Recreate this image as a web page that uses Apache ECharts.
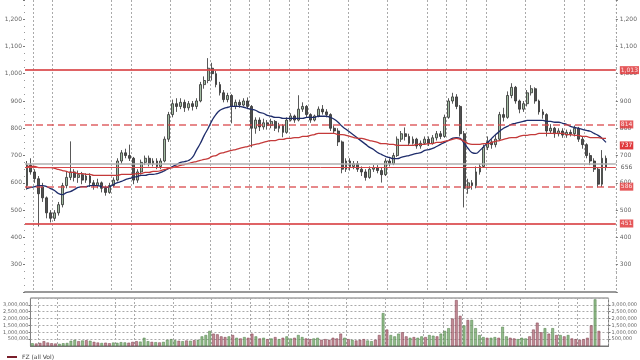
<!DOCTYPE html>
<html>
<head>
<meta charset="utf-8">
<script src="https://cdn.jsdelivr.net/npm/echarts@6/dist/echarts.min.js"></script>
<style>
  html, body { margin: 0; padding: 0; background: #fff; }
  #chart { width: 640px; height: 360px; }
</style>
</head>
<body>
<div id="chart"></div>
<script>
// daily bars: [open, close, low, high]
const ohlc = [
  [590,665,575,680],[665,640,630,690],[640,615,600,650],[615,560,440,625],[585,545,530,600],
  [545,490,470,550],[490,470,455,500],[470,490,460,500],[490,520,480,530],[520,590,510,600],
  [590,620,580,640],[620,640,610,752],[640,620,605,650],[620,630,600,645],[630,610,595,640],
  [610,625,600,635],[625,600,585,635],[600,590,575,610],[590,600,580,615],[600,580,565,605],
  [580,565,553,590],[565,590,560,600],[590,610,585,620],[610,680,605,690],[680,710,670,720],
  [710,700,690,725],[700,690,680,740],[690,610,595,695],[610,640,600,650],[640,675,630,685],
  [675,690,665,700],[690,670,660,700],[670,680,660,690],[680,660,650,690],[660,680,650,690],
  [680,760,675,770],[760,850,750,860],[850,890,840,905],[890,880,860,910],[880,895,870,910],
  [895,875,860,905],[875,890,865,900],[890,880,865,900],[880,900,870,910],[900,960,895,970],
  [960,975,945,990],[975,1020,965,1057],[1020,1000,975,1040],[1000,960,950,1010],[960,930,920,970],
  [930,905,895,940],[905,920,895,930],[920,880,818,925],[880,895,870,905],[895,885,875,905],
  [885,900,880,910],[900,880,870,913],[880,800,730,885],[800,830,780,840],[830,805,790,840],
  [805,820,795,835],[820,810,795,830],[810,825,800,835],[825,800,790,830],[800,810,785,820],
  [810,785,767,815],[785,830,780,840],[830,845,825,855],[845,830,820,850],[830,870,825,921],
  [870,880,860,895],[880,850,840,885],[850,830,820,855],[830,845,825,850],[845,870,840,880],
  [870,860,850,885],[860,850,840,870],[850,800,790,855],[800,790,780,810],[790,750,735,800],
  [750,650,635,755],[650,680,640,690],[680,660,645,690],[660,670,650,680],[670,650,640,680],
  [650,640,625,660],[640,620,608,650],[620,650,615,660],[650,655,640,665],[655,645,635,665],
  [645,630,601,655],[630,680,625,690],[680,670,660,690],[670,700,665,710],[700,760,695,770],
  [760,780,750,790],[780,770,755,803],[770,745,735,780],[745,760,740,770],[760,735,725,765],
  [735,745,725,755],[745,760,740,770],[760,745,735,770],[745,765,740,775],[765,780,755,790],
  [780,770,760,790],[770,840,765,850],[840,900,835,910],[900,915,890,930],[915,880,870,925],
  [880,780,770,885],[780,580,510,790],[580,600,560,615],[600,590,575,610],[590,640,580,660],
  [640,660,630,670],[660,730,655,740],[730,750,720,770],[750,740,725,760],[740,760,730,775],
  [760,850,755,860],[850,840,825,875],[840,920,835,935],[920,950,910,965],[950,900,890,955],
  [900,870,855,905],[870,890,860,900],[890,930,880,940],[930,945,920,958],[945,900,890,950],
  [900,860,850,905],[860,850,835,870],[850,790,770,855],[790,800,780,815],[800,780,765,805],
  [780,790,770,800],[790,775,765,800],[775,785,765,795],[785,780,770,795],[780,800,770,810],
  [800,760,750,805],[760,740,725,770],[740,700,690,745],[700,680,665,710],[680,650,640,690],
  [650,595,583,655],[595,690,585,720],[690,656,645,700]
];

// volume per bar
const volume = [
  200000,180000,220000,350000,250000,200000,180000,160000,200000,220000,
  380000,450000,350000,400000,420000,380000,300000,250000,220000,240000,
  200000,250000,230000,280000,260000,240000,300000,350000,320000,600000,
  350000,300000,280000,260000,300000,450000,500000,420000,380000,350000,
  400000,380000,420000,450000,700000,800000,1100000,900000,850000,700000,
  650000,700000,800000,600000,550000,650000,600000,900000,700000,550000,
  600000,500000,550000,650000,500000,600000,700000,550000,600000,800000,
  650000,550000,500000,550000,600000,450000,500000,450000,600000,550000,
  900000,600000,500000,450000,400000,450000,500000,400000,350000,450000,
  800000,2400000,1200000,800000,700000,900000,1000000,700000,600000,650000,
  600000,700000,650000,800000,750000,700000,900000,1100000,1300000,2000000,
  3350000,2200000,1500000,1900000,1900000,1300000,800000,650000,600000,600000,
  650000,600000,1400000,700000,600000,550000,500000,600000,550000,700000,
  1200000,1700000,1000000,1300000,900000,1300000,800000,800000,700000,800000,
  550000,500000,450000,500000,600000,1500000,3400000,1100000
];

// short moving average (navy)
const maShort = [
  579,583,586,590,590,586,579,572,561,557,564,568,575,583,586,586,590,590,590,586,
  583,586,594,601,605,612,616,620,623,627,627,631,631,634,638,645,653,660,667,675,
  678,682,693,719,744,774,800,829,851,866,873,877,880,880,880,877,873,869,866,858,
  855,847,844,840,840,836,836,836,836,836,836,840,840,840,844,844,844,840,833,822,
  807,796,785,774,763,752,741,730,722,711,704,697,693,689,689,693,697,700,704,708,
  711,719,722,726,733,741,748,755,763,766,763,744,726,711,708,719,733,748,763,777,
  789,800,807,814,818,822,825,829,829,829,829,829,825,825,822,822,818,814,807,803,
  800,796,792,789,781,774,763,748
];

// long moving average (red)
const maLong = [
  660,660,660,656,656,656,656,653,649,645,642,638,638,634,634,631,631,627,627,627,
  627,627,627,627,631,631,631,631,634,634,638,638,642,642,645,649,653,656,660,664,
  667,671,675,678,682,686,689,697,700,708,711,715,719,722,726,730,733,737,741,744,
  748,752,755,755,759,759,763,763,766,766,770,770,774,777,781,781,781,781,781,777,
  777,774,770,766,763,763,759,755,752,748,744,744,741,741,737,737,737,737,737,741,
  741,741,744,744,748,748,752,755,759,763,759,752,744,741,741,741,744,744,748,752,
  755,759,763,766,766,770,774,774,777,777,781,781,781,781,781,781,781,777,777,774,
  774,770,770,766,766,766,763,763
];

// horizontal levels
const solidLevels = [1013, 451];
const dashedLevels = [814, 586];
const maLevel = 737;
const lastPrice = 656;
const refPrice = 670;

const barCount = 150;
const categories = Array.from({ length: barCount }, (_, i) => 'D' + (i + 1));
// bars where a vertical grid line starts
const gridBars = [2, 7, 22, 27, 37, 47, 52, 57, 62, 67, 72, 82, 92, 102, 107, 112, 117, 127, 137, 142];

const upColor = '#a3bea3';
const downColor = '#505050';
const levelRed = '#d9484a';

const fmt = v => Math.round(v).toLocaleString('en-US');

const chart = echarts.init(document.getElementById('chart'));

const levelLabel = {
  show: true,
  position: 'end',
  distance: 4,
  formatter: p => fmt(p.value),
  color: '#fff',
  backgroundColor: '#e0393c',
  fontSize: 6,
  padding: [1, 1],
  fontFamily: 'DejaVu Sans'
};

const markData = []
solidLevels.forEach(v => markData.push({ yAxis: v, lineStyle: { type: 'solid', width: 2, color: levelRed, opacity: 0.85 } }));
dashedLevels.forEach(v => markData.push({ yAxis: v, lineStyle: { type: [7, 4], width: 1.5, color: levelRed, opacity: 0.85 } }));
markData.push({ yAxis: refPrice, lineStyle: { type: 'solid', width: 1.5, color: '#b0b0b0' }, label: { show: false } });
markData.push({ yAxis: lastPrice, lineStyle: { type: 'solid', width: 1, color: levelRed },
  label: { ...levelLabel, color: '#555', backgroundColor: 'transparent', textBorderWidth: 0 } });
markData.push({ yAxis: maLevel, lineStyle: { width: 0, color: 'rgba(0,0,0,0)' } });

const splitX = {
  show: true,
  interval: i => gridBars.includes(i),
  lineStyle: { color: '#aaa', type: [2, 2], width: 1 }
};

const axisLabelStyle = { fontSize: 6, color: '#666', fontFamily: 'DejaVu Sans', formatter: fmt };

chart.setOption({
  animation: false,
  backgroundColor: '#fff',
  legend: {
    left: 2,
    top: 349,
    itemWidth: 10,
    itemHeight: 2,
    itemGap: 4,
    icon: 'rect',
    data: [{ name: 'FZ (all Vol)', itemStyle: { color: '#7a1f2b' } }],
    textStyle: { fontSize: 6, color: '#444', fontFamily: 'DejaVu Sans' }
  },
  grid: [
    { left: 25, right: 18, top: 0, height: 292 },
    { left: 25, right: 18, top: 298, height: 48, show: true, borderColor: '#777', borderWidth: 1 }
  ],
  xAxis: [
    {
      type: 'category', gridIndex: 0, data: categories, boundaryGap: true,
      axisLine: { show: true, lineStyle: { color: '#999', width: 2 } },
      axisTick: { show: false }, axisLabel: { show: false },
      splitLine: splitX
    },
    {
      type: 'category', gridIndex: 1, data: categories, boundaryGap: true,
      axisLine: { show: true, lineStyle: { color: '#777' } },
      axisTick: { show: false }, axisLabel: { show: false },
      splitLine: splitX
    }
  ],
  yAxis: [
    {
      type: 'value', gridIndex: 0, position: 'left', min: 200, max: 1270, interval: 100,
      axisLine: { show: false },
      axisTick: { show: true, length: 2, lineStyle: { color: '#777' } },
      minorTick: { show: true, splitNumber: 4, length: 1, lineStyle: { color: '#999' } },
      axisLabel: { ...axisLabelStyle, margin: 3, showMinLabel: false, showMaxLabel: false },
      splitLine: { show: false }
    },
    {
      type: 'value', gridIndex: 0, position: 'right', min: 200, max: 1270, interval: 100,
      axisLine: { show: false },
      axisTick: { show: true, length: 2, lineStyle: { color: '#777' } },
      minorTick: { show: true, splitNumber: 4, length: 1, lineStyle: { color: '#999' } },
      axisLabel: { ...axisLabelStyle, margin: 4, showMinLabel: false, showMaxLabel: false },
      splitLine: { show: false }
    },
    {
      type: 'value', gridIndex: 1, position: 'left', min: 0, max: 3500000, interval: 500000,
      axisLine: { show: false },
      axisTick: { show: true, length: 2, lineStyle: { color: '#777' } },
      axisLabel: { ...axisLabelStyle, fontSize: 5, margin: 2, showMinLabel: false, showMaxLabel: false },
      splitLine: { show: true, lineStyle: { color: '#aaa', type: [2, 2] } }
    },
    {
      type: 'value', gridIndex: 1, position: 'right', min: 0, max: 3500000, interval: 500000,
      axisLine: { show: false },
      axisTick: { show: true, length: 2, lineStyle: { color: '#777' } },
      axisLabel: { ...axisLabelStyle, fontSize: 5, margin: 3, showMinLabel: false, showMaxLabel: false },
      splitLine: { show: false }
    }
  ],
  series: [
    {
      name: 'Price',
      type: 'candlestick',
      xAxisIndex: 0, yAxisIndex: 0,
      data: ohlc,
      barWidth: '60%',
      itemStyle: {
        color: upColor, color0: downColor,
        borderColor: '#2e2e2e', borderColor0: '#2e2e2e', borderWidth: 0.8
      },
      markLine: {
        silent: true,
        symbol: 'none',
        label: levelLabel,
        data: markData
      }
    },
    {
      name: 'MA short', type: 'line', xAxisIndex: 0, yAxisIndex: 0,
      data: maShort, smooth: true, symbol: 'none',
      lineStyle: { color: '#1f2d6b', width: 1.3 }
    },
    {
      name: 'MA long', type: 'line', xAxisIndex: 0, yAxisIndex: 0,
      data: maLong, smooth: true, symbol: 'none',
      lineStyle: { color: '#c43a3a', width: 1.3 }
    },
    {
      name: 'FZ (all Vol)', type: 'bar', xAxisIndex: 1, yAxisIndex: 2,
      barWidth: '70%',
      data: volume.map((v, i) => ({
        value: v,
        itemStyle: ohlc[i][1] >= ohlc[i][0]
          ? { color: 'rgba(110,165,100,0.75)', borderColor: '#4d7a45', borderWidth: 0.5 }
          : { color: 'rgba(175,100,115,0.75)', borderColor: '#7a3a48', borderWidth: 0.5 }
      }))
    }
  ]
});
</script>
</body>
</html>
